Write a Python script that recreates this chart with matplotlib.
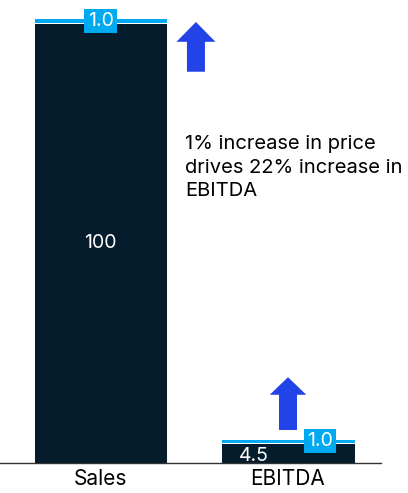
import matplotlib.pyplot as plt
from matplotlib.patches import FancyArrow

plt.rcParams['font.family'] = ['Inter', 'DejaVu Sans']

categories = ['Sales', 'EBITDA']
base_values = [100, 4.5]
increase_values = [1.0, 1.0]
note = '1% increase in price\ndrives 22% increase in\nEBITDA'

navy = '#051c2c'
cyan = '#00aaf0'
blue = '#2243e8'

fig = plt.figure(figsize=(4.08, 4.93), dpi=100)
ax = fig.add_axes([0, 30 / 493, 381 / 408, 463 / 493])

x = [0, 1]
ax.bar(x, base_values, width=0.71, color=navy, edgecolor='white', linewidth=0.7)
ax.bar(x, increase_values, bottom=base_values, width=0.71, color=cyan,
       edgecolor='white', linewidth=0.7)

ax.set_xlim(-0.536, 1.496)
ax.set_ylim(0, 105.2)

# value labels
ax.text(0, base_values[0] / 2, f'{base_values[0]:.0f}', color='white',
        ha='center', va='center', fontsize=14)
ax.text(0.82, 1.7, f'{base_values[1]}', color='white',
        ha='center', va='center', fontsize=14)
box = dict(boxstyle='square,pad=0.17', fc=cyan, ec='none')
ax.text(0, base_values[0] + increase_values[0] / 2 - 0.1, f'{increase_values[0]:.1f}',
        color='white', ha='center', va='center', fontsize=14, bbox=box)
ax.text(1.171, base_values[1] + increase_values[1] / 2, f'{increase_values[1]:.1f}',
        color='white', ha='center', va='center', fontsize=14, bbox=box)

# arrows
ax.add_patch(FancyArrow(0.509, 88.9, 0, 11.3, width=0.096, head_width=0.208,
                        head_length=4.5, length_includes_head=True,
                        color=blue, lw=0))
ax.add_patch(FancyArrow(1.0, 7.5, 0, 12.0, width=0.096, head_width=0.195,
                        head_length=4.0, length_includes_head=True,
                        color=blue, lw=0))

ax.text(0.45, 74.6, note, ha='left', va='top', fontsize=14.5,
        color='black', linespacing=1.42)

ax.set_xticks(x)
ax.set_xticklabels(categories, fontsize=15)
ax.tick_params(axis='x', length=0, pad=4)
ax.set_yticks([])
for s in ['top', 'left', 'right']:
    ax.spines[s].set_visible(False)
ax.spines['bottom'].set_color('#333333')
ax.spines['bottom'].set_linewidth(1)

fig.savefig('out.png', dpi=100)
